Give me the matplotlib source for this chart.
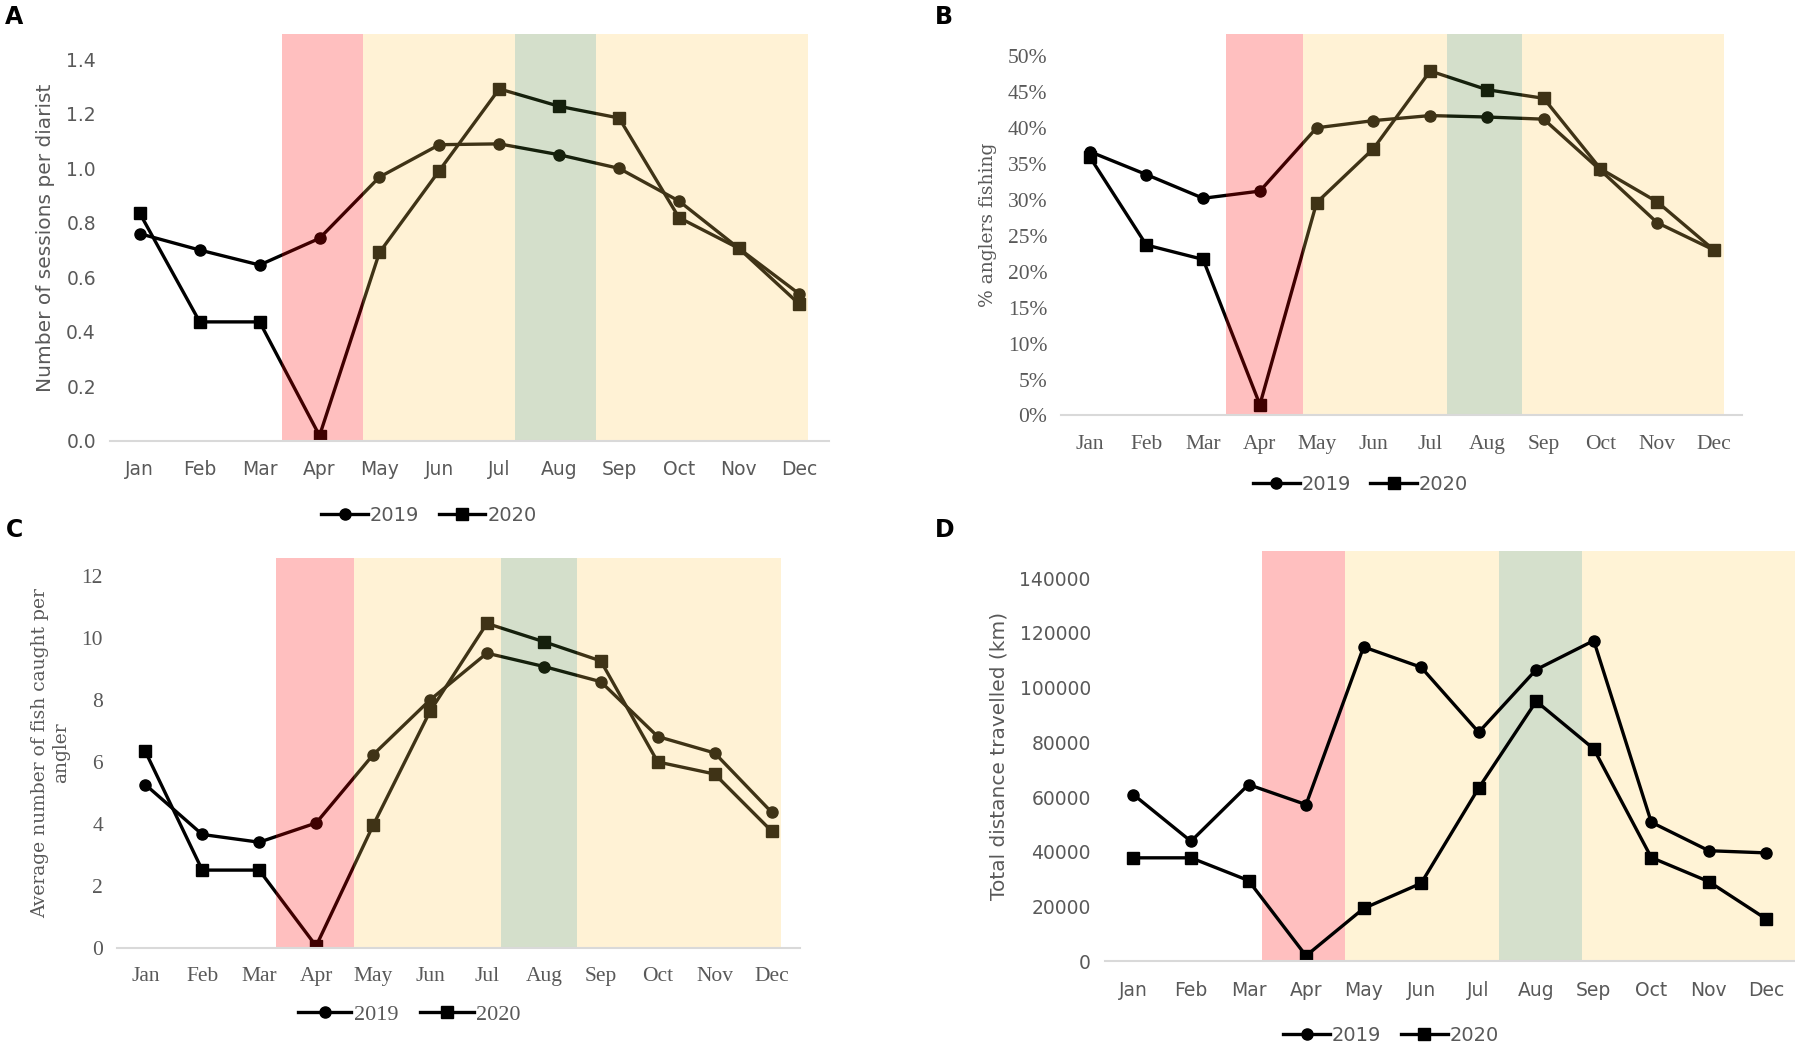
import matplotlib
matplotlib.use("Agg")
import matplotlib.pyplot as plt

months = ['Jan', 'Feb', 'Mar', 'Apr', 'May', 'Jun', 'Jul', 'Aug', 'Sep', 'Oct', 'Nov', 'Dec']

# A: number of sessions per diarist
sessions_2019 = [0.76, 0.70, 0.645, 0.743, 0.968, 1.087, 1.09, 1.05, 1.00, 0.88, 0.706, 0.54]
sessions_2020 = [0.835, 0.436, 0.436, 0.018, 0.691, 0.992, 1.292, 1.228, 1.185, 0.819, 0.706, 0.503]

# B: % anglers fishing
pct_2019 = [36.7, 33.5, 30.2, 31.2, 40.0, 41.0, 41.7, 41.5, 41.2, 34.1, 26.8, 23.0]
pct_2020 = [36.0, 23.7, 21.7, 1.5, 29.6, 37.1, 47.9, 45.3, 44.1, 34.3, 29.7, 23.0]

# C: average number of fish caught per angler
fish_2019 = [5.26, 3.65, 3.40, 4.02, 6.22, 7.99, 9.50, 9.07, 8.58, 6.81, 6.28, 4.37]
fish_2020 = [6.33, 2.50, 2.50, 0.05, 3.94, 7.62, 10.46, 9.87, 9.25, 5.99, 5.60, 3.76]

# D: total distance travelled (km)
dist_2019 = [60900, 43850, 64560, 57250, 114860, 107430, 83680, 106580, 117170, 50800, 40400, 39600]
dist_2020 = [37800, 37800, 29500, 2000, 19300, 28500, 63300, 95000, 77600, 37900, 29100, 15400]

# restriction periods (in month index units) for each panel
spans = {
    'A': [(2.37, 3.72, 'red'), (3.72, 6.26, 'yellow'), (6.26, 7.61, 'green'), (7.61, 11.15, 'yellow')],
    'B': [(2.40, 3.76, 'red'), (3.76, 6.30, 'yellow'), (6.30, 7.61, 'green'), (7.61, 11.17, 'yellow')],
    'C': [(2.29, 3.66, 'red'), (3.66, 6.24, 'yellow'), (6.24, 7.58, 'green'), (7.58, 11.17, 'yellow')],
    'D': [(2.24, 3.67, 'red'), (3.67, 6.36, 'yellow'), (6.36, 7.79, 'green'), (7.79, 11.6, 'yellow')],
}
# overlay colours (drawn on top of the lines with alpha, like the original)
overlay = {'red': '#ff0000', 'yellow': '#ffcf5b', 'green': '#578333'}
solid = {'red': '#ffbfbf', 'yellow': '#fff3d6', 'green': '#d5e0cc'}

grey = '#595959'
sans_narrow = ['Liberation Sans Narrow', 'DejaVu Sans']
serif = ['Liberation Serif', 'DejaVu Serif']

fig = plt.figure(figsize=(17.95, 10.46), dpi=100)

axes_pos = {
    'A': [0.0612, 0.5788, 0.4005, 0.3884],
    'B': [0.5912, 0.6028, 0.3795, 0.3644],
    'C': [0.0651, 0.0941, 0.3806, 0.3724],
    'D': [0.6154, 0.0810, 0.3847, 0.3918],
}


def draw_panel(key, y19, y20, ylim, yticks, yticklabels, ylabel, tick_font, tick_size,
               label_font, label_size, leg_font, leg_size, leg_xy, on_top=True):
    ax = fig.add_axes(axes_pos[key])
    x = list(range(len(months)))
    ax.plot(x, y19, color='black', lw=2.4, marker='o', ms=8, label='2019', zorder=3)
    ax.plot(x, y20, color='black', lw=2.4, marker='s', ms=8, label='2020', zorder=3)

    for x0, x1, c in spans[key]:
        if on_top:
            ax.axvspan(x0, x1, ymin=0, ymax=1, color=overlay[c], alpha=0.25, lw=0, zorder=4)
        else:
            ax.axvspan(x0, x1, ymin=0, ymax=1, color=solid[c], lw=0, zorder=1)

    ax.set_xlim(-0.5, 11.5)
    ax.set_ylim(*ylim)
    ax.set_xticks(x)
    ax.set_xticklabels(months, family=tick_font, fontsize=tick_size, color=grey)
    ax.set_yticks(yticks)
    ax.set_yticklabels(yticklabels, family=tick_font, fontsize=tick_size, color=grey)
    ax.tick_params(length=0, pad=10)
    ax.tick_params(axis='x', pad=14)
    for s in ['top', 'right', 'left']:
        ax.spines[s].set_visible(False)
    ax.spines['bottom'].set_color('#d9d9d9')
    ax.spines['bottom'].set_linewidth(1.5)
    ax.spines['bottom'].set_zorder(5)
    ax.set_ylabel(ylabel, family=label_font, fontsize=label_size, color=grey, labelpad=8)

    leg = ax.legend(loc='center', bbox_to_anchor=leg_xy, bbox_transform=fig.transFigure,
                    ncol=2, frameon=False, handlelength=2.4, handletextpad=0.1,
                    columnspacing=1.0, prop={'family': leg_font, 'size': leg_size})
    for t in leg.get_texts():
        t.set_color(grey)
    return ax


draw_panel('A', sessions_2019, sessions_2020, (0, 1.4925),
           [0, 0.2, 0.4, 0.6, 0.8, 1.0, 1.2, 1.4],
           ['0.0', '0.2', '0.4', '0.6', '0.8', '1.0', '1.2', '1.4'],
           'Number of sessions per diarist', sans_narrow, 13.5, ['DejaVu Sans'], 14.5,
           sans_narrow, 14, (0.239, 0.507))

draw_panel('B', pct_2019, pct_2020, (0, 53.0),
           list(range(0, 55, 5)), ['%d%%' % v for v in range(0, 55, 5)],
           '% anglers fishing', serif, 15.5, ['DejaVu Serif'], 13.5,
           sans_narrow, 14, (0.758, 0.537))

draw_panel('C', fish_2019, fish_2020, (0, 12.57),
           [0, 2, 4, 6, 8, 10, 12], ['0', '2', '4', '6', '8', '10', '12'],
           'Average number of fish caught per\nangler', serif, 15.5, ['DejaVu Serif'], 13.5,
           serif, 16, (0.228, 0.030))

draw_panel('D', dist_2019, dist_2020, (0, 149750),
           list(range(0, 160000, 20000)), [str(v) for v in range(0, 160000, 20000)],
           'Total distance travelled (km)', sans_narrow, 13.5, ['DejaVu Sans'], 14.5,
           sans_narrow, 14, (0.775, 0.010), on_top=False)

for letter, (lx, ly) in {'A': (0.003, 0.984), 'B': (0.521, 0.984),
                         'C': (0.003, 0.493), 'D': (0.521, 0.493)}.items():
    fig.text(lx, ly, letter, fontsize=17, fontweight='bold', family='DejaVu Sans',
             va='center', ha='left')

fig.savefig('out.png', dpi=100)
